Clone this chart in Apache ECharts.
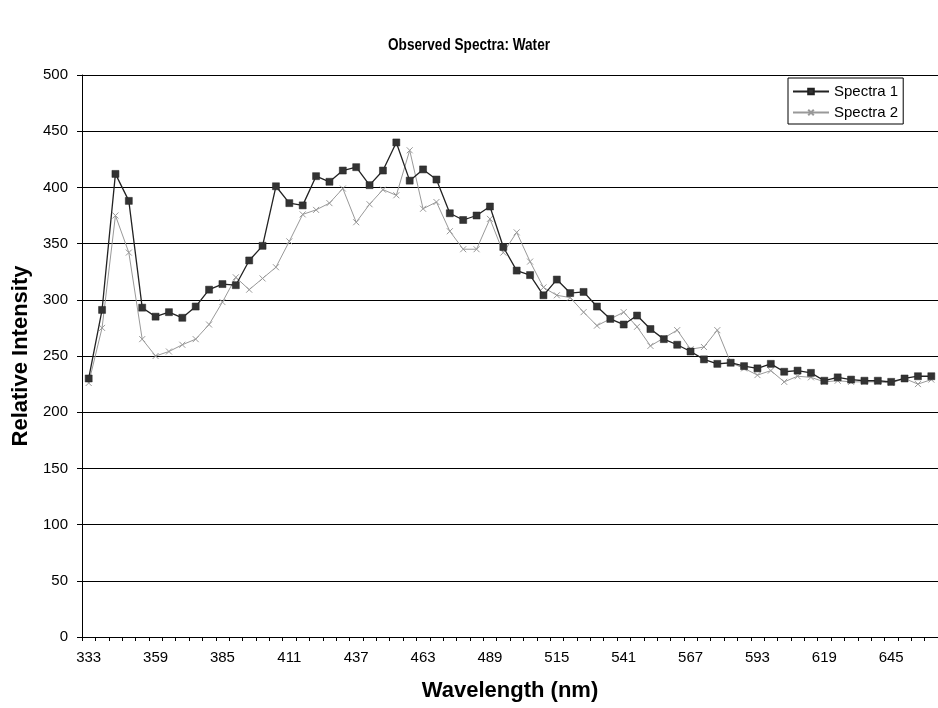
<!DOCTYPE html>
<html>
<head>
<meta charset="utf-8">
<script src="https://cdn.jsdelivr.net/npm/echarts@6/dist/echarts.min.js"></script>
<style>
  html, body { margin: 0; padding: 0; background: #fff; }
  #chart { width: 938px; height: 708px; }
</style>
</head>
<body>
<div id="chart"></div>
<script>
// Wavelength categories (nm), one every 5.2 nm
var wavelengths = [
  '333', '338.2', '343.4', '348.6', '353.8', '359', '364.2', '369.4', '374.6', '379.8',
  '385', '390.2', '395.4', '400.6', '405.8', '411', '416.2', '421.4', '426.6', '431.8',
  '437', '442.2', '447.4', '452.6', '457.8', '463', '468.2', '473.4', '478.6', '483.8',
  '489', '494.2', '499.4', '504.6', '509.8', '515', '520.2', '525.4', '530.6', '535.8',
  '541', '546.2', '551.4', '556.6', '561.8', '567', '572.2', '577.4', '582.6', '587.8',
  '593', '598.2', '603.4', '608.6', '613.8', '619', '624.2', '629.4', '634.6', '639.8',
  '645', '650.2', '655.4', '660.6'
];

// Relative intensity readings
var spectra1 = [
  230, 291, 412, 388, 293, 285, 289, 284, 294, 309,
  314, 313, 335, 348, 401, 386, 384, 410, 405, 415,
  418, 402, 415, 440, 406, 416, 407, 377, 371, 375,
  383, 347, 326, 322, 304, 318, 306, 307, 294, 283,
  278, 286, 274, 265, 260, 254, 247, 243, 244, 241,
  239, 243, 236, 237, 235, 228, 231, 229, 228, 228,
  227, 230, 232, 232
];
var spectra2 = [
  226, 275, 375, 342, 265, 250, 254, 260, 265, 278,
  298, 320, 309, 319, 329, 352, 376, 380, 386, 399,
  369, 385, 398, 393, 433, 381, 387, 361, 345, 345,
  372, 342, 360, 334, 311, 304, 302, 289, 277, 283,
  289, 276, 259, 266, 273, 256, 258, 273, 244, 239,
  233, 237, 227, 232, 231, 227, 228, 227, 227, 227,
  226, 230, 225, 229
];

var yTicks = { min: 0, max: 500, step: 50 };

var chartTitle = 'Observed Spectra: Water';

var FONT = '"Liberation Sans", Arial, sans-serif';
var crossPath = 'path://M0,0L10,10M10,0L0,10';

var chart = echarts.init(document.getElementById('chart'), null, { renderer: 'canvas' });

chart.setOption({
  animation: false,
  backgroundColor: '#ffffff',
  // Condensed bold heading, squeezed horizontally around its centre
  graphic: [{
    type: 'text',
    x: 469,
    y: 45,
    scaleX: 0.8,
    style: {
      text: chartTitle,
      x: 0,
      y: 0,
      font: 'bold 17px "Liberation Sans", Arial, sans-serif',
      textAlign: 'center',
      textVerticalAlign: 'middle',
      fill: '#000'
    }
  }],
  legend: {
    orient: 'vertical',
    left: 788,
    top: 78,
    padding: [6, 5, 4, 4],
    itemGap: 6,
    itemWidth: 36,
    itemHeight: 7,
    backgroundColor: '#ffffff',
    borderColor: '#000',
    borderWidth: 1,
    borderRadius: 0,
    textStyle: { fontFamily: FONT, fontSize: 15, color: '#000' },
    data: ['Spectra 1', 'Spectra 2']
  },
  grid: {
    left: 82,
    top: 75,
    bottom: 71,
    right: -13,
    containLabel: false
  },
  xAxis: {
    type: 'category',
    data: wavelengths,
    boundaryGap: true,
    name: 'Wavelength (nm)',
    nameLocation: 'middle',
    nameGap: 43,
    nameTextStyle: { fontFamily: FONT, fontSize: 22, fontWeight: 'bold', color: '#000' },
    axisLine: { show: true, lineStyle: { color: '#000', width: 1 } },
    axisTick: { show: true, interval: 0, length: 4, lineStyle: { color: '#000' } },
    axisLabel: { interval: 4, fontFamily: FONT, fontSize: 15, color: '#000', margin: 13 },
    splitLine: { show: false }
  },
  yAxis: {
    type: 'value',
    min: yTicks.min,
    max: yTicks.max,
    interval: yTicks.step,
    name: 'Relative Intensity',
    nameLocation: 'middle',
    nameGap: 49,
    nameTextStyle: { fontFamily: FONT, fontSize: 22, fontWeight: 'bold', color: '#000' },
    axisLine: { show: true, lineStyle: { color: '#000', width: 1 } },
    axisTick: { show: true, length: 5, lineStyle: { color: '#000' } },
    axisLabel: { fontFamily: FONT, fontSize: 15, color: '#000', margin: 14 },
    splitLine: { show: true, lineStyle: { color: '#000', width: 1 } }
  },
  series: [
    {
      name: 'Spectra 1',
      type: 'line',
      data: spectra1,
      symbol: 'rect',
      symbolSize: 7,
      showAllSymbol: true,
      clip: false,
      lineStyle: { color: '#222', width: 1.3 },
      itemStyle: { color: '#333', borderColor: '#222', borderWidth: 0.5 },
      z: 3
    },
    {
      name: 'Spectra 2',
      type: 'line',
      data: spectra2,
      symbol: crossPath,
      symbolSize: 6,
      showAllSymbol: true,
      clip: false,
      lineStyle: { color: '#999', width: 1 },
      itemStyle: { color: '#999', borderColor: '#999', borderWidth: 1 },
      z: 2
    }
  ]
});
</script>
</body>
</html>
